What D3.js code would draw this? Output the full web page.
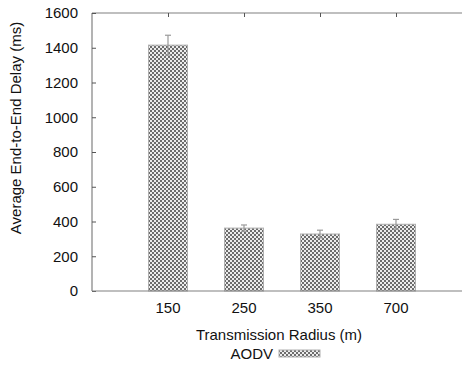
<!DOCTYPE html>
<html>
<head>
<meta charset="utf-8">
<script src="https://cdn.jsdelivr.net/npm/d3@7"></script>
<style>
  html, body { margin: 0; padding: 0; background: #fff; }
  text { font-family: "Liberation Sans", Arial, Helvetica, sans-serif; fill: #111; }
</style>
</head>
<body>
<svg id="chart" width="462" height="366"></svg>
<script>
// Average end-to-end delay of AODV by transmission radius
const categories = ["150", "250", "350", "700"];
const delayValues = [1415, 362, 328, 384];
const delayErrors = [57, 18, 22, 28];
const yTicks = [0, 200, 400, 600, 800, 1000, 1200, 1400, 1600];
const seriesName = "AODV";

const svg = d3.select("#chart");
const plotLeft = 92, plotRight = 472, plotTop = 13, plotBottom = 291;
const fontSize = 15;

// checkerboard fill
const defs = svg.append("defs");
const pat = defs.append("pattern")
  .attr("id", "checker")
  .attr("patternUnits", "userSpaceOnUse")
  .attr("width", 4).attr("height", 4);
pat.append("rect").attr("width", 4).attr("height", 4).attr("fill", "#ececec");
pat.append("rect").attr("x", 0).attr("y", 0).attr("width", 2).attr("height", 2).attr("fill", "#6c6c6c");
pat.append("rect").attr("x", 2).attr("y", 2).attr("width", 2).attr("height", 2).attr("fill", "#6c6c6c");

const x = d3.scalePoint().domain(categories).range([plotLeft, plotRight]).padding(1);
const y = d3.scaleLinear().domain([0, 1600]).range([plotBottom, plotTop]);
const barW = 39;

// frame
const frame = svg.append("g").attr("stroke", "#808080").attr("stroke-width", 1.2).attr("fill", "none");
frame.append("line").attr("x1", plotLeft).attr("x2", plotRight).attr("y1", plotTop).attr("y2", plotTop);
frame.append("line").attr("x1", plotLeft).attr("x2", plotLeft).attr("y1", plotTop).attr("y2", plotBottom);

// y axis: inward ticks, labels on the left
const yAxis = d3.axisLeft(y).tickValues(yTicks).tickSize(-4).tickPadding(14).tickFormat(d3.format("d"));
const gy = svg.append("g").attr("transform", `translate(${plotLeft},0)`).call(yAxis);
gy.select(".domain").remove();
gy.selectAll(".tick line").attr("stroke", "#555");
gy.selectAll(".tick text").attr("font-size", fontSize).attr("fill", "#111")
  .attr("font-family", "Liberation Sans, Arial, sans-serif");

// x axis ticks at top (inward)
const gxTop = svg.append("g").attr("transform", `translate(0,${plotTop})`)
  .call(d3.axisTop(x).tickSize(-4).tickFormat(""));
gxTop.select(".domain").remove();
gxTop.selectAll(".tick line").attr("stroke", "#555");

// bars
svg.append("g").selectAll("rect").data(categories).join("rect")
  .attr("x", (d) => x(d) - barW / 2)
  .attr("y", (d, i) => y(delayValues[i]))
  .attr("width", barW)
  .attr("height", (d, i) => y(0) - y(delayValues[i]))
  .attr("fill", "url(#checker)")
  .attr("stroke", "#b0b0b0").attr("stroke-width", 1);

// error bars
const eb = svg.append("g").attr("stroke", "#9a9a9a").attr("stroke-width", 1.2);
categories.forEach((c, i) => {
  const cx = x(c);
  const hi = y(delayValues[i] + delayErrors[i]);
  const lo = y(delayValues[i] - delayErrors[i]);
  eb.append("line").attr("x1", cx).attr("x2", cx).attr("y1", hi).attr("y2", lo);
  eb.append("line").attr("x1", cx - 3).attr("x2", cx + 3).attr("y1", hi).attr("y2", hi);
  eb.append("line").attr("x1", cx - 3).attr("x2", cx + 3).attr("y1", lo).attr("y2", lo);
});

// bottom line over bars
svg.append("line").attr("x1", plotLeft).attr("x2", plotRight).attr("y1", plotBottom).attr("y2", plotBottom)
  .attr("stroke", "#808080").attr("stroke-width", 1.2);

// x tick labels
svg.append("g").selectAll("text").data(categories).join("text")
  .attr("x", (d) => x(d)).attr("y", 313)
  .attr("text-anchor", "middle").attr("font-size", fontSize)
  .text((d) => d);

// axis titles
svg.append("text").attr("x", 279).attr("y", 340).attr("text-anchor", "middle")
  .attr("font-size", fontSize).text("Transmission Radius (m)");
svg.append("text")
  .attr("transform", "translate(21,128) rotate(-90)")
  .attr("text-anchor", "middle").attr("font-size", fontSize)
  .text("Average End-to-End Delay (ms)");

// legend
svg.append("text").attr("x", 273).attr("y", 359).attr("text-anchor", "end")
  .attr("font-size", fontSize).text(seriesName);
svg.append("rect").attr("x", 279).attr("y", 350).attr("width", 41).attr("height", 7)
  .attr("fill", "url(#checker)").attr("stroke", "#b0b0b0").attr("stroke-width", 1);
</script>
</body>
</html>
